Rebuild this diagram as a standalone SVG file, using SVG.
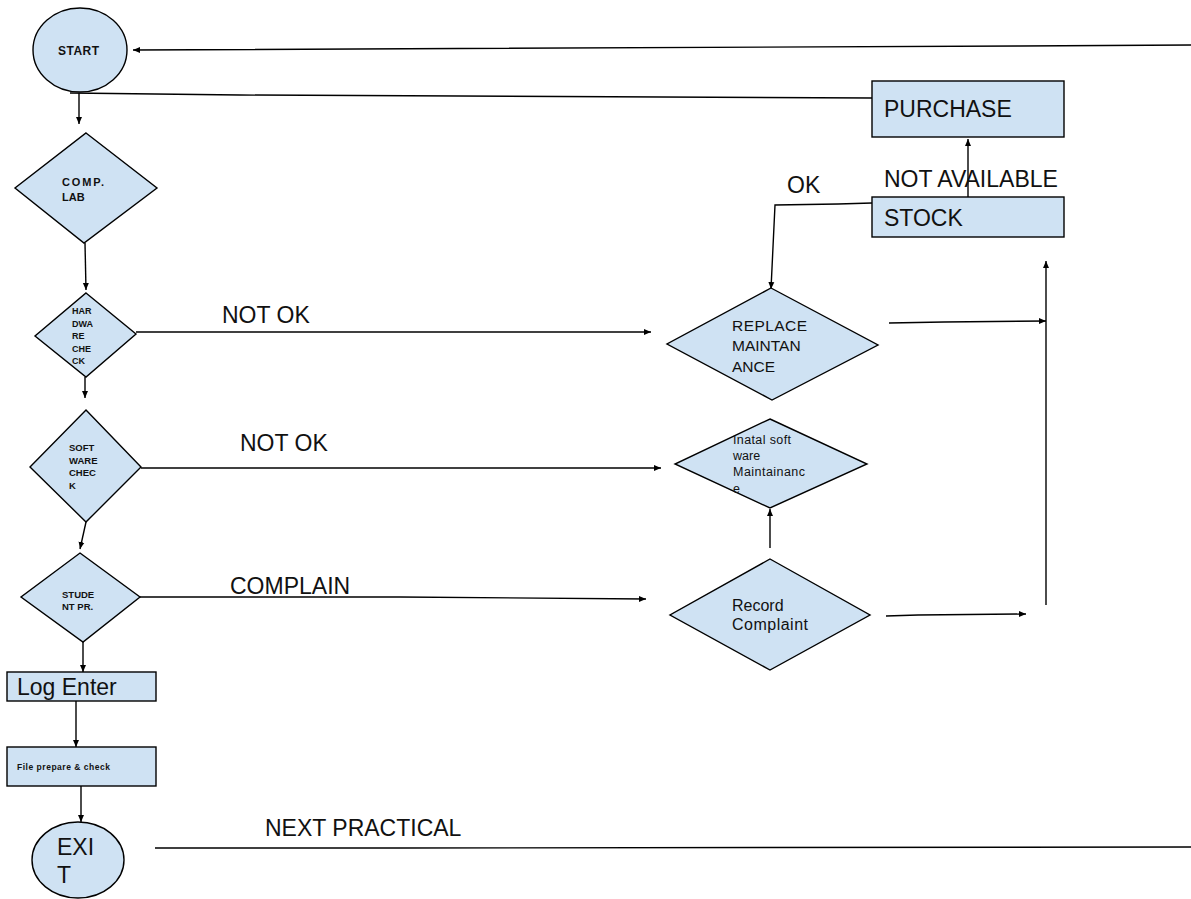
<svg xmlns="http://www.w3.org/2000/svg" width="1191" height="899" viewBox="0 0 1191 899">
<style>
.n{fill:#cfe2f3;stroke:#000;stroke-width:1.4}
.c{fill:none;stroke:#000;stroke-width:1.4}
.t{font-family:"Liberation Sans",Arial,sans-serif;fill:#111}
.b{font-weight:bold}
.L{font-size:23px}
</style>
<defs>
<marker id="a" markerUnits="userSpaceOnUse" markerWidth="8" markerHeight="8" refX="7" refY="4" orient="auto">
<path d="M0,1 L7,4 L0,7 Z" fill="#000"/>
</marker>
</defs>
<rect width="1191" height="899" fill="#fff"/>
<g id="connectors">
<polyline class="c" points="1191,45 1020,46 133,50" marker-end="url(#a)"/>
<polyline class="c" points="872,98 240,95 70,93"/>
<line class="c" x1="79" y1="93" x2="79" y2="124" marker-end="url(#a)"/>
<line class="c" x1="85" y1="243" x2="86" y2="290" marker-end="url(#a)"/>
<line class="c" x1="85" y1="377" x2="85" y2="398" marker-end="url(#a)"/>
<line class="c" x1="86" y1="522" x2="80" y2="549" marker-end="url(#a)"/>
<line class="c" x1="83" y1="642" x2="83" y2="672" marker-end="url(#a)"/>
<line class="c" x1="76" y1="698" x2="76" y2="747" marker-end="url(#a)"/>
<line class="c" x1="81" y1="786" x2="81" y2="822" marker-end="url(#a)"/>
<polyline class="c" points="155,848 400,848 1191,847"/>
<line class="c" x1="136" y1="332" x2="651" y2="332" marker-end="url(#a)"/>
<line class="c" x1="141" y1="468" x2="661" y2="468" marker-end="url(#a)"/>
<polyline class="c" points="140,597 400,597 646,599" marker-end="url(#a)"/>
<polyline class="c" points="872,203 838,204 775,205 771,289" marker-end="url(#a)"/>
<line class="c" x1="968" y1="197" x2="968" y2="139" marker-end="url(#a)"/>
<polyline class="c" points="889,323 944,322 1046,321" marker-end="url(#a)"/>
<line class="c" x1="1046" y1="605" x2="1046" y2="261" marker-end="url(#a)"/>
<polyline class="c" points="886,616 918,615 1026,614" marker-end="url(#a)"/>
<line class="c" x1="770" y1="548" x2="770" y2="509" marker-end="url(#a)"/>
<text class="t L" x="222" y="323">NOT OK</text>
<text class="t L" x="240" y="451">NOT OK</text>
<text class="t L" x="230" y="594">COMPLAIN</text>
<text class="t L" x="787" y="193">OK</text>
<text class="t L" x="884" y="187">NOT AVAILABLE</text>
<text class="t L" x="265" y="836">NEXT PRACTICAL</text>
</g>
<g id="start">
<ellipse class="n" cx="80" cy="50" rx="47" ry="42"/>
<text class="t b" x="58" y="55" font-size="12" textLength="41">START</text>
</g>
<g id="comp-lab">
<polygon class="n" points="86,133 157,188 84,243 15,188"/>
<text class="t b" x="62" y="186" font-size="11" textLength="42">COMP.</text>
<text class="t b" x="62" y="201" font-size="11">LAB</text>
</g>
<g id="hardware-check">
<polygon class="n" points="86,293 136,334 86,377 35,336"/>
<text class="t b" x="72" y="314" font-size="9">HAR</text>
<text class="t b" x="72" y="327" font-size="9">DWA</text>
<text class="t b" x="72" y="339" font-size="9">RE</text>
<text class="t b" x="72" y="352" font-size="9">CHE</text>
<text class="t b" x="72" y="364" font-size="9">CK</text>
</g>
<g id="software-check">
<polygon class="n" points="86,410 141,467 86,522 30,467"/>
<text class="t b" x="69" y="451" font-size="9.5">SOFT</text>
<text class="t b" x="69" y="464" font-size="9.5">WARE</text>
<text class="t b" x="69" y="476" font-size="9.5">CHEC</text>
<text class="t b" x="69" y="489" font-size="9.5">K</text>
</g>
<g id="student-pr">
<polygon class="n" points="80,553 140,597 83,642 21,597"/>
<text class="t b" x="62" y="598" font-size="9.5">STUDE</text>
<text class="t b" x="62" y="610" font-size="9.5">NT PR.</text>
</g>
<g id="log-enter">
<rect class="n" x="7" y="672" width="149" height="29"/>
<text class="t L" x="17" y="695">Log Enter</text>
</g>
<g id="file-prepare">
<rect class="n" x="7" y="747" width="149" height="39"/>
<text class="t b" x="17" y="770" font-size="8.5" textLength="93">File prepare &amp; check</text>
</g>
<g id="exit">
<ellipse class="n" cx="78" cy="860" rx="46" ry="38"/>
<text class="t L" x="57" y="855">EXI</text>
<text class="t L" x="57" y="883">T</text>
</g>
<g id="purchase">
<rect class="n" x="872" y="81" width="192" height="56"/>
<text class="t L" x="884" y="117">PURCHASE</text>
</g>
<g id="stock">
<rect class="n" x="872" y="197" width="192" height="40"/>
<text class="t L" x="884" y="226">STOCK</text>
</g>
<g id="replace-maintanance">
<polygon class="n" points="771,288 878,345 772,400 667,344"/>
<text class="t" x="732" y="331" font-size="15.5" textLength="75">REPLACE</text>
<text class="t" x="732" y="351" font-size="15.5">MAINTAN</text>
<text class="t" x="732" y="372" font-size="15.5">ANCE</text>
</g>
<g id="install-software">
<polygon class="n" points="770,419 867,464 770,508 675,464"/>
<text class="t" x="733" y="444" font-size="12.5" textLength="58">Inatal soft</text>
<text class="t" x="733" y="460" font-size="12.5">ware</text>
<text class="t" x="733" y="476" font-size="12.5" textLength="72">Maintainanc</text>
<text class="t" x="733" y="493" font-size="12.5">e</text>
</g>
<g id="record-complaint">
<polygon class="n" points="770,559 870,615 770,670 670,615"/>
<text class="t" x="732" y="611" font-size="16">Record</text>
<text class="t" x="732" y="630" font-size="16" textLength="76">Complaint</text>
</g>
</svg>
